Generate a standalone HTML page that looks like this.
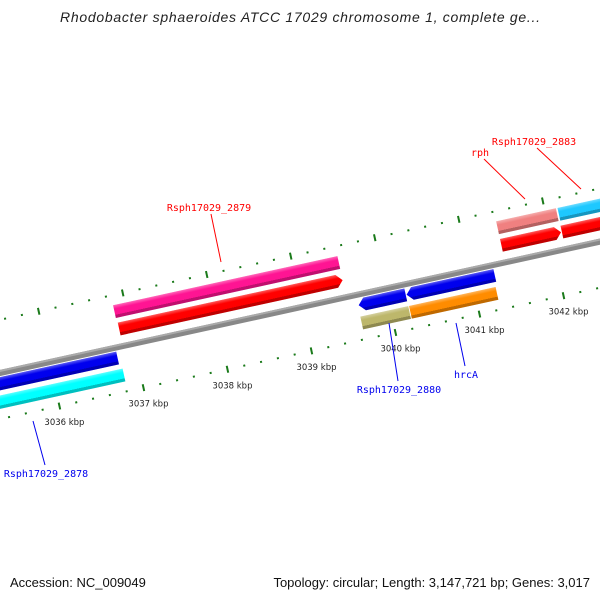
<!DOCTYPE html>
<html><head><meta charset="utf-8"><style>
html,body{margin:0;padding:0;background:#fff}
svg{display:block}
.lbl{font-family:"DejaVu Sans Mono","Liberation Mono",monospace;font-size:10px}
.tl{font-family:"DejaVu Sans","Liberation Sans",sans-serif;font-size:8.5px;fill:#222}
</style></head><body>
<svg id="chart" width="600" height="600" viewBox="0 0 600 600" xmlns="http://www.w3.org/2000/svg">
<defs>
<linearGradient id="gshade" x1="0" y1="0" x2="0" y2="1">
<stop offset="0" stop-color="#fff" stop-opacity="0.35"/>
<stop offset="0.3" stop-color="#fff" stop-opacity="0"/>
<stop offset="0.75" stop-color="#000" stop-opacity="0"/>
<stop offset="0.76" stop-color="#000" stop-opacity="0.25"/>
<stop offset="1" stop-color="#000" stop-opacity="0.25"/>
</linearGradient>
</defs>
<text x="300" y="22" text-anchor="middle" font-family="Liberation Sans, sans-serif" font-style="italic" font-size="14" fill="#222" textLength="480">Rhodobacter sphaeroides ATCC 17029 chromosome 1, complete ge...</text>
<g id="track"></g>
<g id="labels"></g>
<text x="10" y="587" font-family="Liberation Sans, sans-serif" font-size="13" fill="#111">Accession: NC_009049</text>
<text x="590" y="587" text-anchor="end" font-family="Liberation Sans, sans-serif" font-size="13" fill="#111">Topology: circular; Length: 3,147,721 bp; Genes: 3,017</text>
</svg>
<script>
// gene data (kbp positions)
const geneNames = ["Rsph17029_2878a","Rsph17029_2878","Rsph17029_2879a","Rsph17029_2879","rph_cds","rph","Rsph17029_2883_cds","Rsph17029_2883","Rsph17029_2880","Rsph17029_2880_gene","hrcA","hrcA_gene"];
const geneStart = [3034.8, 3034.8, 3036.87, 3036.86, 3041.42, 3041.42, 3042.14, 3042.15, 3039.65, 3039.64, 3040.22, 3040.22];
const geneEnd   = [3036.78, 3036.81, 3039.53, 3039.53, 3042.13, 3042.13, 3044.0, 3044.0, 3040.21, 3040.21, 3041.27, 3041.25];
const geneLane  = [1, 2, -1, -2, -1, -2, -1, -2, 1, 2, 1, 2];
const geneColor = ["#0000ee","#00ffff","#ff0000","#ff1493","#ff0000","#f08080","#ff0000","#1ec8ff","#0000ee","#bdb76b","#0000ee","#ff8c00"];
const geneArrow = ["none","none","right","none","right","none","none","none","left","none","left","none"];
const tickStartK = 3034;
const tickEndK = 3044;
const tickLabels = ["3036 kbp","3037 kbp","3038 kbp","3039 kbp","3040 kbp","3041 kbp","3042 kbp"];
const tickLabelK = [3036,3037,3038,3039,3040,3041,3042];
const labelText = ["Rsph17029_2879","rph","Rsph17029_2883","Rsph17029_2880","hrcA","Rsph17029_2878"];
const labelK = [3037.9, 3041.55, 3042.15, 3039.95, 3040.72, 3035.8];
const labelColor = ["#ff0000","#ff0000","#ff0000","#0000ee","#0000ee","#0000ee"];

const NS='http://www.w3.org/2000/svg';
const ang=-12.35, rad=ang*Math.PI/180, C=Math.cos(rad), S=Math.sin(rad);
const ox=0, oy=373;
function uOf(k){return 51+(k-3036)*86;}
function scr(u,v){return [ox+u*C - v*S, oy+u*S + v*C];}
const laneV = {1:[4,17],2:[22,35],"-1":[-24,-11],"-2":[-42,-29]};

const track=document.getElementById('track');
const rot=document.createElementNS(NS,'g');
rot.setAttribute('transform',`translate(${ox},${oy}) rotate(${ang})`);


track.appendChild(rot);

// backbone
const bb=document.createElementNS(NS,'rect');
bb.setAttribute('x',-100);bb.setAttribute('y',-3);bb.setAttribute('width',900);bb.setAttribute('height',6);
bb.setAttribute('fill','#888');


rot.appendChild(bb);
const bb2=document.createElementNS(NS,'rect');
bb2.setAttribute('x',-100);bb2.setAttribute('y',-3);bb2.setAttribute('width',900);bb2.setAttribute('height',2);
bb2.setAttribute('fill','#aaa');


rot.appendChild(bb2);

// ticks
for(let i=0;i<=(tickEndK-tickStartK)*5;i++){
  const k=tickStartK+i*0.2;
  const major=(i%5===0);
  [-52,45].forEach(v=>{
    const r=document.createElementNS(NS,'rect');
    const u=uOf(k);
    r.setAttribute('x',u-1);
    r.setAttribute('y',major?v-3.5:v-1);
    r.setAttribute('width',2);
    r.setAttribute('height',major?7:2);
    r.setAttribute('fill','#1a7a1a');
    
    
    rot.appendChild(r);
  });
}

// genes
for(let i=0;i<geneNames.length;i++){
  const u1=uOf(geneStart[i]), u2=uOf(geneEnd[i]);
  const [v1,v2]=laneV[geneLane[i]];
  const vm=(v1+v2)/2, a=6;
  let d;
  if(geneArrow[i]==='right') d=`M${u1},${v1} L${u2-a},${v1} L${u2},${vm} L${u2-a},${v2} L${u1},${v2} Z`;
  else if(geneArrow[i]==='left') d=`M${u1+a},${v1} L${u2},${v1} L${u2},${v2} L${u1+a},${v2} L${u1},${vm} Z`;
  else d=`M${u1},${v1} L${u2},${v1} L${u2},${v2} L${u1},${v2} Z`;
  const p=document.createElementNS(NS,'path');
  p.setAttribute('d',d);p.setAttribute('fill',geneColor[i]);
  
  
  rot.appendChild(p);
  const p2=document.createElementNS(NS,'path');
  p2.setAttribute('d',d);p2.setAttribute('fill','url(#gshade)');
  
  
  rot.appendChild(p2);
}

// tick labels
tickLabels.forEach((t,i)=>{
  const [x,y]=scr(uOf(tickLabelK[i]),45);
  const tx=document.createElementNS(NS,'text');
  tx.setAttribute('x',x+5);tx.setAttribute('y',y+19);
  tx.setAttribute('text-anchor','middle');
  tx.setAttribute('class','tl');
  
  
  tx.textContent=t;
  track.appendChild(tx);
});

// gene labels with leader lines
const labPos=[[209,211],[480,156],[534,145],[399,393],[466,378],[46,477]];
const lineEnd=[[221,262],[525,199],[581,189],[389,323],[456,323],[33,421]];
const labs=document.getElementById('labels');
labelText.forEach((t,i)=>{
  const [lx,ly]=labPos[i];
  const [ex,ey]=lineEnd[i];
  const ln=document.createElementNS(NS,'line');
  const up=ey>ly;
  ln.setAttribute('x1',lx+(up?2:-1)*(i===1?2:1)+(i===2?1:0));
  ln.setAttribute('y1',up?ly+3:ly-12);
  ln.setAttribute('x2',ex);ln.setAttribute('y2',ey);
  ln.setAttribute('stroke',labelColor[i]);ln.setAttribute('stroke-width','1');
  
  
  labs.appendChild(ln);
  const tx=document.createElementNS(NS,'text');
  tx.setAttribute('x',lx);tx.setAttribute('y',ly);
  tx.setAttribute('text-anchor','middle');
  tx.setAttribute('class','lbl');
  tx.setAttribute('fill',labelColor[i]);
  
  
  tx.textContent=t;
  labs.appendChild(tx);
});
</script>
</body></html>
